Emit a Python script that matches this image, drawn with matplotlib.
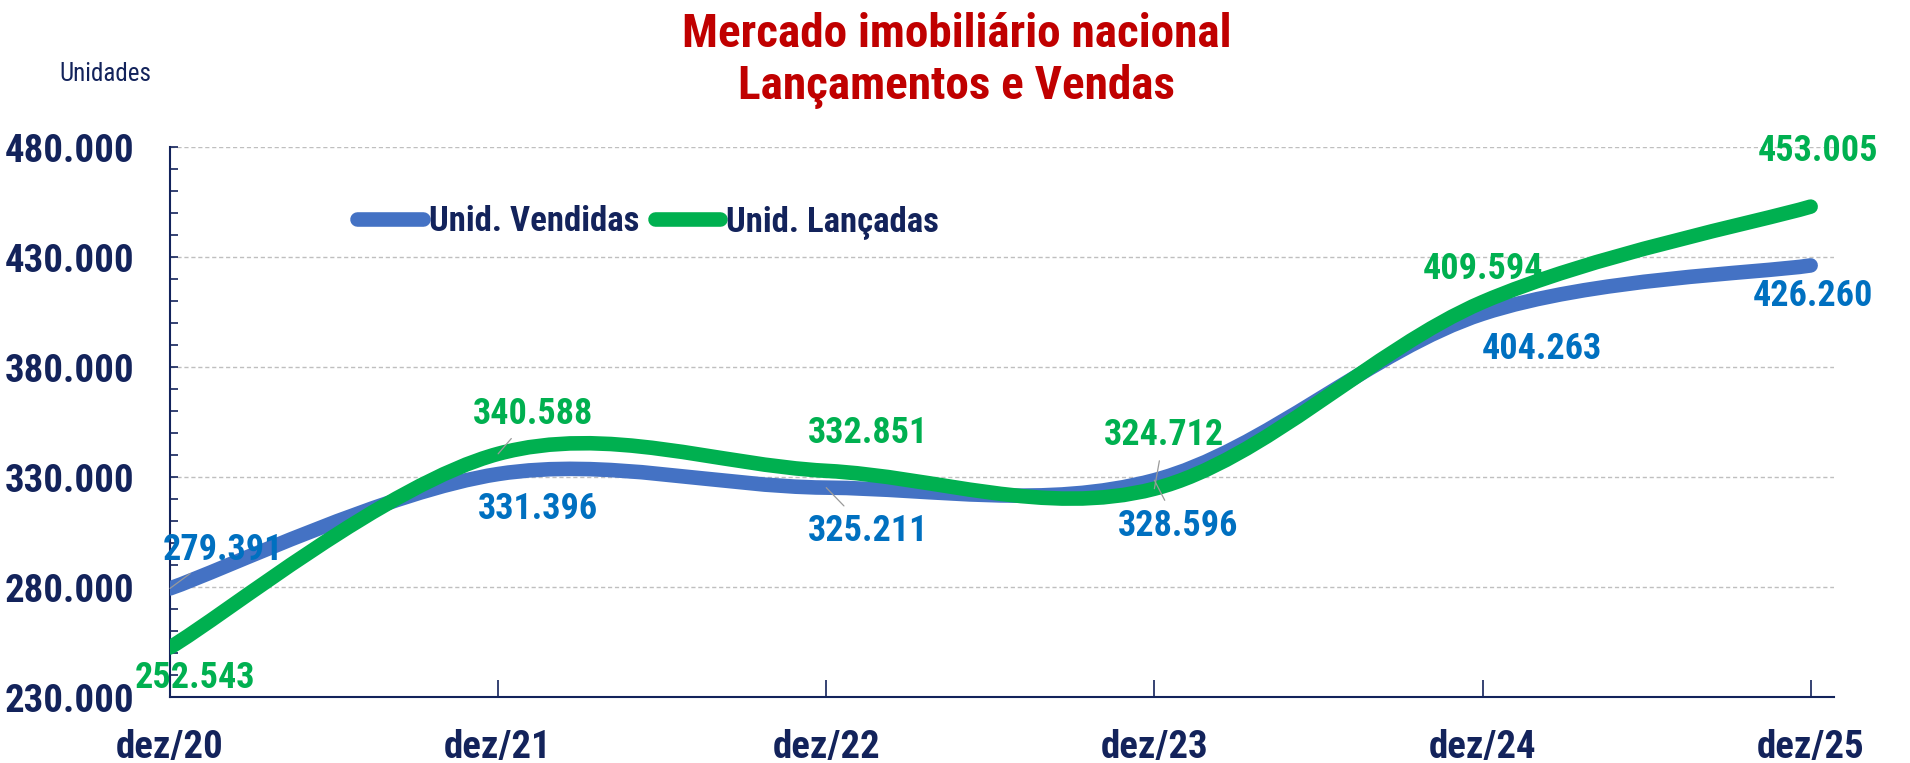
import numpy as np
import matplotlib.pyplot as plt
from matplotlib import font_manager as fm
from matplotlib.path import Path
from matplotlib.patches import PathPatch
from matplotlib.lines import Line2D
from matplotlib.ticker import FixedLocator, MultipleLocator, FuncFormatter

# pick a narrow bold face (Arial Narrow look-alike) from what's installed
bold_faces = {f.name for f in fm.fontManager.ttflist if f.weight in (700, 'bold')}
narrow = next((n for n in ['Arial Narrow', 'Liberation Sans Narrow', 'Roboto Condensed',
                           'PT Sans Narrow', 'Archivo Narrow', 'Asap Condensed']
               if n in bold_faces), 'Liberation Sans')
plt.rcParams['font.family'] = [narrow, 'DejaVu Sans']

# Data
periods = ['dez/20', 'dez/21', 'dez/22', 'dez/23', 'dez/24', 'dez/25']
vendidas = [279391, 331396, 325211, 328596, 404263, 426260]
lancadas = [252543, 340588, 332851, 324712, 409594, 453005]
yticks = [230000, 280000, 330000, 380000, 430000, 480000]

# label offsets in points (dx, dy) and whether a leader line is drawn
off_vend = [(38, 28), (29, -25), (30, -31), (17, -33), (43, -25), (2, -22)]
lead_vend = [True, False, True, True, False, False]
off_lanc = [(18, -22), (25, 29), (30, 27), (7, 39), (0, 24), (5, 40)]
lead_lanc = [False, True, False, True, False, False]

navy = '#13235B'
blue = '#4472C4'
green = '#00B050'
lbl_blue = '#0070C0'

fig = plt.figure(figsize=(19.10, 7.63), dpi=100)
ax = fig.add_axes([0.089, 0.0865, 0.871, 0.7205])


def smooth_path(xs, ys):
    # Excel-style smoothed line: cubic Bezier through each data point
    n = len(xs)
    verts = [(xs[0], ys[0])]
    codes = [Path.MOVETO]
    for i in range(n - 1):
        x0, y0 = (xs[i - 1], ys[i - 1]) if i > 0 else (xs[i], ys[i])
        x1, y1 = xs[i], ys[i]
        x2, y2 = xs[i + 1], ys[i + 1]
        x3, y3 = (xs[i + 2], ys[i + 2]) if i + 2 < n else (xs[i + 1], ys[i + 1])
        c1 = (x1 + (x2 - x0) / 6, y1 + (y2 - y0) / 6)
        c2 = (x2 - (x3 - x1) / 6, y2 - (y3 - y1) / 6)
        verts += [c1, c2, (x2, y2)]
        codes += [Path.CURVE4] * 3
    return Path(verts, codes)


x = np.arange(len(periods))
for ys, col in [(vendidas, blue), (lancadas, green)]:
    patch = PathPatch(smooth_path(x, ys), facecolor='none', edgecolor=col,
                      lw=10.5, capstyle='round', joinstyle='round', zorder=3)
    ax.add_patch(patch)

for vals, offs, leads, col in [(vendidas, off_vend, lead_vend, lbl_blue),
                               (lancadas, off_lanc, lead_lanc, green)]:
    for xi, v, (dx, dy), ld in zip(x, vals, offs, leads):
        txt = f'{v:,}'.replace(',', '.')
        ap = dict(arrowstyle='-', color='#9A9A9A', lw=0.9, shrinkA=4, shrinkB=0) if ld else None
        ax.annotate(txt, (xi, v), xytext=(dx, dy), textcoords='offset points',
                    ha='center', va='center', fontsize=26, fontweight='bold',
                    color=col, arrowprops=ap, zorder=4)

ax.set_xlim(0, 5.07)
ax.set_ylim(230000, 480000)
ax.set_xticks(x)
ax.set_xticklabels(periods)
ax.yaxis.set_major_locator(FixedLocator(yticks))
ax.yaxis.set_minor_locator(MultipleLocator(10000))
ax.yaxis.set_major_formatter(FuncFormatter(lambda v, p: f'{int(v):,}'.replace(',', '.')))

ax.grid(axis='y', which='major', color='#BFBFBF', linestyle=(0, (3, 2)), lw=1)
ax.set_axisbelow(True)
for s in ['top', 'right']:
    ax.spines[s].set_visible(False)
for s in ['left', 'bottom']:
    ax.spines[s].set_color(navy)
    ax.spines[s].set_linewidth(1.5)

ax.tick_params(axis='y', which='major', direction='in', length=6, width=1.2,
               color=navy, pad=26, labelsize=28, labelcolor=navy)
ax.tick_params(axis='y', which='minor', direction='in', length=6, width=1.2, color=navy)
ax.tick_params(axis='x', direction='in', length=12, width=1.2, color=navy,
               pad=23, labelsize=28, labelcolor=navy)
for lab in ax.get_xticklabels() + ax.get_yticklabels():
    lab.set_fontweight('bold')

fig.text(0.501, 0.956, 'Mercado imobiliário nacional', ha='center', va='center',
         fontsize=34, fontweight='bold', color='#C00000')
fig.text(0.501, 0.886, 'Lançamentos e Vendas', ha='center', va='center',
         fontsize=34, fontweight='bold', color='#C00000')
fig.text(0.055, 0.903, 'Unidades', ha='center', va='center', fontsize=18, color=navy)

handles = [Line2D([], [], color=blue, lw=10.5, solid_capstyle='round'),
           Line2D([], [], color=green, lw=10.5, solid_capstyle='round')]
leg = ax.legend(handles, ['Unid. Vendidas', 'Unid. Lançadas'], loc='center left',
                bbox_to_anchor=(0.178, 0.709), bbox_transform=fig.transFigure,
                ncol=2, frameon=False, handlelength=1.9, handletextpad=0.15,
                columnspacing=0.45, borderpad=0,
                prop={'size': 25, 'weight': 'bold'})
for t in leg.get_texts():
    t.set_color(navy)

fig.savefig('out.png', dpi=100)
